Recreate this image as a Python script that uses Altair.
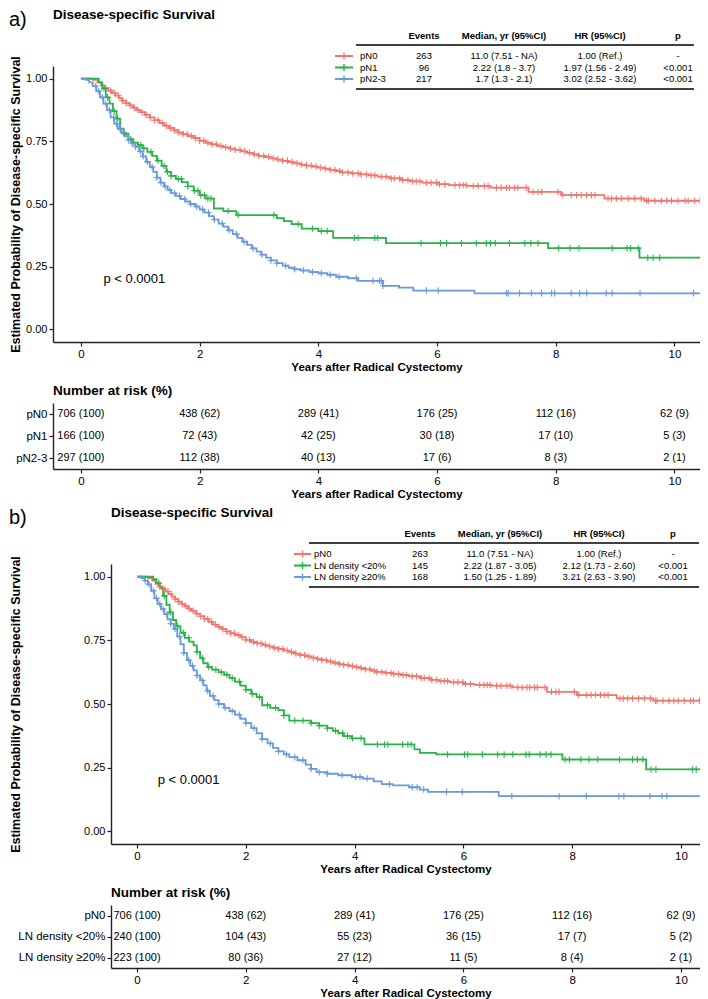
import altair as alt
import numpy as np
import pandas as pd

FONT = "Liberation Sans"
RED, GREEN, BLUE = "#F3766E", "#2CB24B", "#6B99DB"

# ---------------- groups ----------------
groups_a = ["pN0", "pN1", "pN2-3"]
groups_b = ["pN0", "LN density <20%", "LN density \u226520%"]
ALL_GROUPS = ["pN0", "pN1", "pN2-3", "LN density <20%", "LN density \u226520%"]
ALL_COLORS = [RED, GREEN, BLUE, GREEN, BLUE]

# ---------------- KM curves (years, survival) ----------------
curve_pN0 = [(0, 1.0), (0.2, 0.995), (0.28, 0.985), (0.34, 0.972), (0.4, 0.962), (0.46, 0.952), (0.52, 0.942),
             (0.58, 0.932), (0.64, 0.922), (0.7, 0.912), (0.76, 0.902), (0.82, 0.893), (0.88, 0.884), (0.94, 0.875),
             (1.0, 0.866), (1.08, 0.855), (1.16, 0.845), (1.24, 0.834), (1.32, 0.823), (1.4, 0.812), (1.48, 0.803),
             (1.56, 0.794), (1.64, 0.785), (1.72, 0.778), (1.8, 0.771), (1.9, 0.763), (2.0, 0.752), (2.1, 0.744),
             (2.2, 0.738), (2.3, 0.732), (2.4, 0.726), (2.5, 0.721), (2.6, 0.716), (2.7, 0.710), (2.8, 0.704),
             (2.9, 0.698), (3.0, 0.692), (3.1, 0.687), (3.2, 0.682), (3.3, 0.677), (3.4, 0.672), (3.5, 0.667),
             (3.6, 0.662), (3.7, 0.657), (3.8, 0.653), (3.9, 0.649), (4.0, 0.645), (4.1, 0.641), (4.2, 0.636),
             (4.3, 0.631), (4.4, 0.626), (4.55, 0.622), (4.7, 0.618), (4.85, 0.614), (5.0, 0.609), (5.2, 0.602),
             (5.4, 0.595), (5.55, 0.590), (5.75, 0.585), (6.0, 0.579), (6.2, 0.575), (6.5, 0.572), (6.9, 0.565),
             (7.54, 0.548), (8.09, 0.535), (8.82, 0.522), (9.49, 0.513), (10.5, 0.513)]

curve_pN1 = [(0, 1.0), (0.3, 0.985), (0.36, 0.96), (0.42, 0.925), (0.48, 0.9), (0.54, 0.87), (0.6, 0.84),
             (0.66, 0.8), (0.72, 0.78), (0.8, 0.758), (0.88, 0.745), (0.96, 0.735), (1.04, 0.722), (1.12, 0.708),
             (1.2, 0.692), (1.28, 0.673), (1.36, 0.652), (1.44, 0.628), (1.52, 0.612), (1.6, 0.6), (1.7, 0.587),
             (1.8, 0.57), (1.9, 0.553), (2.0, 0.535), (2.1, 0.522), (2.24, 0.482), (2.4, 0.472), (2.62, 0.456),
             (3.3, 0.444), (3.42, 0.432), (3.55, 0.42), (3.72, 0.402), (4.0, 0.392), (4.25, 0.365), (5.14, 0.344),
             (7.87, 0.324), (9.41, 0.286), (10.5, 0.286)]

curve_pN23 = [(0, 1.0), (0.08, 0.995), (0.14, 0.985), (0.2, 0.97), (0.26, 0.95), (0.32, 0.925), (0.38, 0.9),
              (0.44, 0.875), (0.5, 0.845), (0.56, 0.82), (0.62, 0.8), (0.68, 0.785), (0.74, 0.77), (0.8, 0.755),
              (0.86, 0.742), (0.92, 0.728), (0.98, 0.71), (1.04, 0.69), (1.1, 0.668), (1.16, 0.648), (1.22, 0.628),
              (1.28, 0.605), (1.34, 0.585), (1.4, 0.57), (1.46, 0.556), (1.52, 0.543), (1.6, 0.532), (1.68, 0.52),
              (1.76, 0.51), (1.84, 0.5), (1.92, 0.49), (2.0, 0.478), (2.08, 0.466), (2.16, 0.452), (2.24, 0.438),
              (2.32, 0.422), (2.4, 0.41), (2.48, 0.395), (2.56, 0.38), (2.64, 0.365), (2.72, 0.35), (2.8, 0.337),
              (2.88, 0.323), (2.96, 0.31), (3.04, 0.298), (3.12, 0.286), (3.2, 0.275), (3.3, 0.264), (3.4, 0.254),
              (3.5, 0.246), (3.6, 0.24), (3.7, 0.235), (3.85, 0.229), (4.0, 0.224), (4.15, 0.218), (4.3, 0.21),
              (4.5, 0.204), (4.67, 0.194), (5.09, 0.174), (5.36, 0.167), (5.6, 0.155), (6.63, 0.144), (10.5, 0.144)]

curve_lnlow = [(0, 1.0), (0.3, 0.99), (0.36, 0.975), (0.42, 0.955), (0.48, 0.925), (0.54, 0.89), (0.6, 0.86),
               (0.66, 0.83), (0.72, 0.805), (0.8, 0.78), (0.88, 0.76), (0.96, 0.745), (1.04, 0.73), (1.1, 0.705),
               (1.16, 0.68), (1.22, 0.66), (1.3, 0.645), (1.38, 0.635), (1.5, 0.625), (1.6, 0.615), (1.7, 0.602),
               (1.8, 0.588), (1.9, 0.572), (2.0, 0.556), (2.1, 0.54), (2.2, 0.527), (2.3, 0.495), (2.45, 0.485),
               (2.6, 0.476), (2.7, 0.455), (2.8, 0.435), (3.2, 0.425), (3.35, 0.415), (3.5, 0.405), (3.6, 0.395),
               (3.7, 0.385), (3.8, 0.374), (3.95, 0.365), (4.18, 0.341), (5.1, 0.322), (5.2, 0.308), (5.5, 0.302),
               (7.82, 0.282), (9.36, 0.243), (10.5, 0.243)]

curve_lnhigh = [(0, 1.0), (0.08, 0.995), (0.14, 0.985), (0.2, 0.97), (0.26, 0.945), (0.32, 0.915), (0.38, 0.893),
                (0.44, 0.873), (0.5, 0.853), (0.56, 0.833), (0.62, 0.815), (0.68, 0.795), (0.74, 0.765),
                (0.8, 0.735), (0.86, 0.7), (0.92, 0.672), (0.98, 0.65), (1.04, 0.632), (1.1, 0.612), (1.16, 0.593),
                (1.22, 0.573), (1.28, 0.552), (1.34, 0.532), (1.42, 0.515), (1.5, 0.5), (1.6, 0.485), (1.7, 0.472),
                (1.8, 0.458), (1.9, 0.442), (2.0, 0.425), (2.1, 0.405), (2.2, 0.385), (2.3, 0.362), (2.4, 0.345),
                (2.5, 0.328), (2.6, 0.314), (2.7, 0.302), (2.8, 0.291), (2.95, 0.279), (3.1, 0.262), (3.2, 0.245),
                (3.3, 0.232), (3.5, 0.226), (3.7, 0.22), (3.95, 0.213), (4.15, 0.207), (4.35, 0.196), (4.5, 0.185),
                (4.7, 0.18), (5.0, 0.173), (5.2, 0.164), (5.35, 0.155), (6.65, 0.138), (10.5, 0.138)]

# ---------------- censoring times ----------------
cens_pN0 = [0.42, 0.5, 0.57, 0.63, 0.7, 0.76, 0.83, 0.9, 0.96, 1.03, 1.1, 1.17, 1.24, 1.3, 1.37, 1.44, 1.51,
            1.58, 1.65, 1.72, 1.79, 1.86, 1.93, 2.0, 2.07, 2.14, 2.21, 2.28, 2.36, 2.44, 2.52, 2.6, 2.68, 2.76,
            2.84, 2.92, 3.0, 3.08, 3.16, 3.24, 3.32, 3.4, 3.48, 3.56, 3.64, 3.72, 3.8, 3.88, 3.96, 4.04, 4.12,
            4.2, 4.28, 4.36, 4.41, 4.5, 4.58, 4.67, 4.72, 4.81, 4.89, 4.95, 5.06, 5.14, 5.23, 5.28, 5.37, 5.42,
            5.51, 5.59, 5.65, 5.71, 5.82, 5.9, 5.99, 6.04, 6.13, 6.3, 6.38, 6.44, 6.49, 6.61, 6.69, 6.8, 6.86,
            7.0, 7.08, 7.17, 7.22, 7.31, 7.36, 7.5, 7.62, 7.7, 7.76, 8.04, 8.12, 8.26, 8.35, 8.43, 8.52, 8.6,
            8.66, 8.88, 8.94, 9.02, 9.11, 9.22, 9.33, 9.44, 9.53, 9.56, 9.67, 9.78, 9.87, 9.95, 10.06, 10.18,
            10.23, 10.34, 10.43]
cens_pN1 = [0.39, 0.45, 0.56, 0.62, 0.73, 0.84, 0.89, 1.01, 1.06, 1.18, 1.3, 1.4, 1.46, 1.52, 1.64, 1.69, 1.8,
            1.91, 1.97, 2.02, 2.08, 2.14, 2.19, 2.48, 2.65, 3.25, 3.66, 3.9, 4.05, 4.15, 4.61, 4.67, 4.95, 5.0,
            5.73, 6.06, 6.16, 6.41, 6.66, 6.83, 6.9, 6.98, 7.22, 7.48, 7.58, 7.7, 8.05, 8.24, 8.39, 8.95, 9.2,
            9.26, 9.39, 9.55, 9.64, 9.75]
cens_pN23 = [0.25, 0.3, 0.36, 0.42, 0.48, 0.55, 0.6, 0.66, 0.72, 0.8, 0.86, 0.92, 1.0, 1.05, 1.12, 1.2, 1.28,
             1.35, 1.42, 1.5, 1.58, 1.66, 1.75, 1.85, 1.95, 2.05, 2.15, 2.25, 2.38, 2.5, 2.62, 2.75, 2.9, 3.05,
             3.2, 3.3, 3.45, 3.6, 3.75, 3.9, 4.05, 4.2, 4.35, 4.64, 4.92, 5.03, 5.06, 5.09, 5.82, 6.02, 7.17,
             7.2, 7.39, 7.59, 7.76, 7.93, 7.98, 8.26, 8.4, 8.52, 8.85, 8.95, 9.42, 10.32]
cens_lnlow = [0.4, 0.5, 0.62, 0.75, 0.85, 0.95, 1.1, 1.2, 1.32, 1.45, 1.55, 1.65, 1.75, 1.88, 2.0, 2.12, 2.25,
              2.4, 2.55, 2.7, 2.9, 3.05, 3.2, 3.35, 3.5, 3.65, 3.78, 3.87, 3.96, 4.12, 4.42, 4.55, 4.61, 4.88,
              4.98, 5.04, 5.71, 6.02, 6.08, 6.35, 6.63, 6.75, 6.91, 7.15, 7.21, 7.41, 7.52, 7.61, 7.87, 7.95,
              8.16, 8.31, 8.47, 8.87, 9.11, 9.2, 9.3, 9.45, 9.54, 10.21, 10.28]
cens_lnhigh = [0.15, 0.22, 0.3, 0.36, 0.42, 0.48, 0.55, 0.62, 0.7, 0.78, 0.86, 0.95, 1.02, 1.1, 1.2, 1.3, 1.4,
               1.5, 1.62, 1.75, 1.88, 2.0, 2.15, 2.3, 2.45, 2.6, 2.75, 2.9, 3.05, 3.2, 3.35, 3.5, 3.77, 4.02,
               4.1, 4.23, 4.64, 5.06, 5.15, 5.27, 5.69, 5.98, 6.89, 7.76, 8.26, 8.86, 8.95, 9.43, 9.65, 9.74]

# ---------------- summary tables ----------------
table_header = ["Events", "Median, yr (95%CI)", "HR (95%CI)", "p"]
events_a = ["263", "96", "217"]
median_a = ["11.0 (7.51 - NA)", "2.22 (1.8 - 3.7)", "1.7 (1.3 - 2.1)"]
hr_a = ["1.00 (Ref.)", "1.97 (1.56 - 2.49)", "3.02 (2.52 - 3.62)"]
p_a = ["-", "<0.001", "<0.001"]
events_b = ["263", "145", "168"]
median_b = ["11.0 (7.51 - NA)", "2.22 (1.87 - 3.05)", "1.50 (1.25 - 1.89)"]
hr_b = ["1.00 (Ref.)", "2.12 (1.73 - 2.60)", "3.21 (2.63 - 3.90)"]
p_b = ["-", "<0.001", "<0.001"]
pval_text = "p < 0.0001"
pval_pos = (0.38, 0.2)

# ---------------- number at risk ----------------
risk_times = [0, 2, 4, 6, 8, 10]
risk_pN0 = ["706 (100)", "438 (62)", "289 (41)", "176 (25)", "112 (16)", "62 (9)"]
risk_pN1 = ["166 (100)", "72 (43)", "42 (25)", "30 (18)", "17 (10)", "5 (3)"]
risk_pN23 = ["297 (100)", "112 (38)", "40 (13)", "17 (6)", "8 (3)", "2 (1)"]
risk_lnlow = ["240 (100)", "104 (43)", "55 (23)", "36 (15)", "17 (7)", "5 (2)"]
risk_lnhigh = ["223 (100)", "80 (36)", "27 (12)", "11 (5)", "8 (4)", "2 (1)"]

XTITLE = "Years after Radical Cystectomy"
YTITLE = "Estimated Probability of Disease-specific Survival"
CROSS = "M-1,0L1,0M0,-1L0,1"

# layout (pixels relative to each panel's plot origin, before the panel shift)
LAY_A = dict(letter_x=-44, sym=(282, 300), lab_x=307, cols=[371, 451, 547, 625], line=(303, 641))
LAY_B = dict(letter_x=-102, sym=(183, 200), lab_x=203, cols=[309, 389, 488, 562], line=(198, 588))
TITLE_Y, LETTER_Y, HEAD_Y, TOP_LINE_Y, ROWS_Y, BOT_LINE_Y = -51, -46, -30, -21, (-10, 13), 23
PANEL_W = 647


def step_value(curve, t):
    ts = [p[0] for p in curve]
    i = int(np.searchsorted(ts, t, side="right")) - 1
    return curve[i][1]


def one(**kw):
    return pd.DataFrame({k: [v] for k, v in kw.items()})


def build_panel(letter, groups, curves, censors, events, medians, hrs, ps, risks,
                height, risk_h, xdomain, ytitle_x, lay, shift):
    width = PANEL_W
    xs = alt.Scale(domain=xdomain, range=[shift, width], nice=False, zero=False)
    ys = alt.Scale(domain=[-0.05, 1.05], nice=False, zero=False)
    cscale = alt.Scale(domain=ALL_GROUPS, range=ALL_COLORS)
    color = alt.Color("group:N", scale=cscale, legend=None)

    x_axis = alt.Axis(values=[0, 2, 4, 6, 8, 10], format="d", title=XTITLE, titleFontSize=11.5,
                      titleFontWeight="bold", labelFontSize=11.5)
    y_axis = alt.Axis(values=[0, 0.25, 0.5, 0.75, 1.0], format=".2f", title=YTITLE, titleFontSize=12.5,
                      titleFontWeight="bold", titleX=ytitle_x, titleY=height / 2, titleAngle=270,
                      titleBaseline="bottom", titleAlign="center", labelFontSize=11, offset=-shift)
    X = alt.X("t:Q", scale=xs, axis=x_axis)
    Y = alt.Y("s:Q", scale=ys, axis=y_axis)

    line_rows, cen_rows = [], []
    for g, c, cz in zip(groups, curves, censors):
        for t, s in c:
            line_rows.append({"group": g, "t": t, "s": s})
        for t in cz:
            cen_rows.append({"group": g, "t": t, "s": step_value(c, t)})

    lines = alt.Chart(pd.DataFrame(line_rows)).mark_line(interpolate="step-after", strokeWidth=1.8,
                                                         clip=True).encode(
        x=X, y=Y, color=color, detail="group:N")
    cens = alt.Chart(pd.DataFrame(cen_rows)).mark_point(shape=CROSS, size=42, filled=False, strokeWidth=1.1,
                                                        opacity=1, clip=True).encode(x=X, y=Y, color=color)
    ptxt = alt.Chart(one(t=pval_pos[0], s=pval_pos[1], label=pval_text)).mark_text(
        align="left", baseline="middle", font=FONT, fontSize=13, color="black").encode(x=X, y=Y, text="label:N")
    km = alt.layer(lines, cens, ptxt)

    # ---- summary table layered on top (own row scale)
    tdf = pd.DataFrame({"group": groups, "row": list(range(len(groups))), "events": events,
                        "median": medians, "hr": hrs, "p": ps})
    ytab = alt.Y("row:Q", scale=alt.Scale(domain=[0, len(groups) - 1], range=list(ROWS_Y), nice=False,
                                          zero=False), axis=None)
    sx = lambda v: v + shift
    tab_layers = []
    tab_layers.append(alt.Chart(one(txt=letter)).mark_text(
        align="left", baseline="middle", font=FONT, fontSize=20, color="black").encode(
        x=alt.value(sx(lay["letter_x"])), y=alt.value(LETTER_Y), text="txt:N"))
    tab_layers.append(alt.Chart(one(txt="Disease-specific Survival")).mark_text(
        align="left", baseline="middle", font=FONT, fontSize=13.5, fontWeight="bold", color="black").encode(
        x=alt.value(sx(0)), y=alt.value(TITLE_Y), text="txt:N"))
    for name, cx in zip(table_header, lay["cols"]):
        tab_layers.append(alt.Chart(one(txt=name)).mark_text(
            align="center", baseline="middle", font=FONT, fontSize=9.5, fontWeight="bold", color="black").encode(
            x=alt.value(sx(cx)), y=alt.value(HEAD_Y), text="txt:N"))
    for yl in (TOP_LINE_Y, BOT_LINE_Y):
        tab_layers.append(alt.Chart(one(k=0)).mark_rule(color="black", strokeWidth=1.5).encode(
            x=alt.value(sx(lay["line"][0])), x2=alt.value(sx(lay["line"][1])), y=alt.value(yl)))
    tab_layers.append(alt.Chart(tdf).mark_rule(strokeWidth=2).encode(
        x=alt.value(sx(lay["sym"][0])), x2=alt.value(sx(lay["sym"][1])), y=ytab, color=color))
    tab_layers.append(alt.Chart(tdf).mark_point(shape=CROSS, size=50, filled=False, strokeWidth=1.4,
                                                opacity=1).encode(
        x=alt.value(sx((lay["sym"][0] + lay["sym"][1]) / 2)), y=ytab, color=color))
    tab_layers.append(alt.Chart(tdf).mark_text(align="left", baseline="middle", font=FONT, fontSize=9.5,
                                               color="black").encode(
        x=alt.value(sx(lay["lab_x"])), y=ytab, text="group:N"))
    for key, cx in zip(["events", "median", "hr", "p"], lay["cols"]):
        tab_layers.append(alt.Chart(tdf).mark_text(align="center", baseline="middle", font=FONT, fontSize=9.5,
                                                   color="black").encode(
            x=alt.value(sx(cx)), y=ytab, text=f"{key}:N"))
    table = alt.layer(*tab_layers)

    top = alt.layer(km, table).resolve_scale(y="independent").properties(width=width, height=height)

    # ---- number at risk table
    rrows = []
    for g, r in zip(groups, risks):
        for t, lab in zip(risk_times, r):
            rrows.append({"group": g, "t": t, "label": lab})
    risk = alt.Chart(pd.DataFrame(rrows)).mark_text(font=FONT, fontSize=11, color="black").encode(
        x=alt.X("t:Q", scale=xs, axis=alt.Axis(values=[0, 2, 4, 6, 8, 10], format="d", title=XTITLE,
                                               titleFontSize=11.5, titleFontWeight="bold", labelFontSize=11.5)),
        y=alt.Y("group:N", sort=groups, scale=alt.Scale(domain=groups),
                axis=alt.Axis(title=None, labelFontSize=11.5, offset=-shift)),
        text="label:N",
    ).properties(width=width, height=risk_h,
                 title=alt.TitleParams("Number at risk (%)", anchor="start", frame="group", offset=6, dx=shift,
                                       font=FONT, fontSize=13.5, fontWeight="bold", color="black"))
    return alt.vconcat(top, risk, spacing=10)


panel_a = build_panel("a)", groups_a, [curve_pN0, curve_pN1, curve_pN23], [cens_pN0, cens_pN1, cens_pN23],
                      events_a, median_a, hr_a, p_a, [risk_pN0, risk_pN1, risk_pN23],
                      height=276, risk_h=66, xdomain=[-0.47, 10.43], ytitle_x=-31, lay=LAY_A, shift=0)
panel_b = build_panel("b)", groups_b, [curve_pN0, curve_lnlow, curve_lnhigh], [cens_pN0, cens_lnlow, cens_lnhigh],
                      events_b, median_b, hr_b, p_b, [risk_pN0, risk_lnlow, risk_lnhigh],
                      height=280, risk_h=63, xdomain=[-0.478, 10.35], ytitle_x=-89, lay=LAY_B, shift=58)

chart = alt.vconcat(panel_a, panel_b, spacing=6).properties(padding=0).configure_view(
    stroke=None).configure_axis(
    labelFont=FONT, titleFont=FONT, labelColor="black", titleColor="black", domainColor="#222222",
    tickColor="#222222", domainWidth=1.4, tickWidth=1.2, tickSize=4, grid=False, labelPadding=2,
    titlePadding=2)

chart.save("out.html", embed_options={"renderer": "svg", "actions": False})
